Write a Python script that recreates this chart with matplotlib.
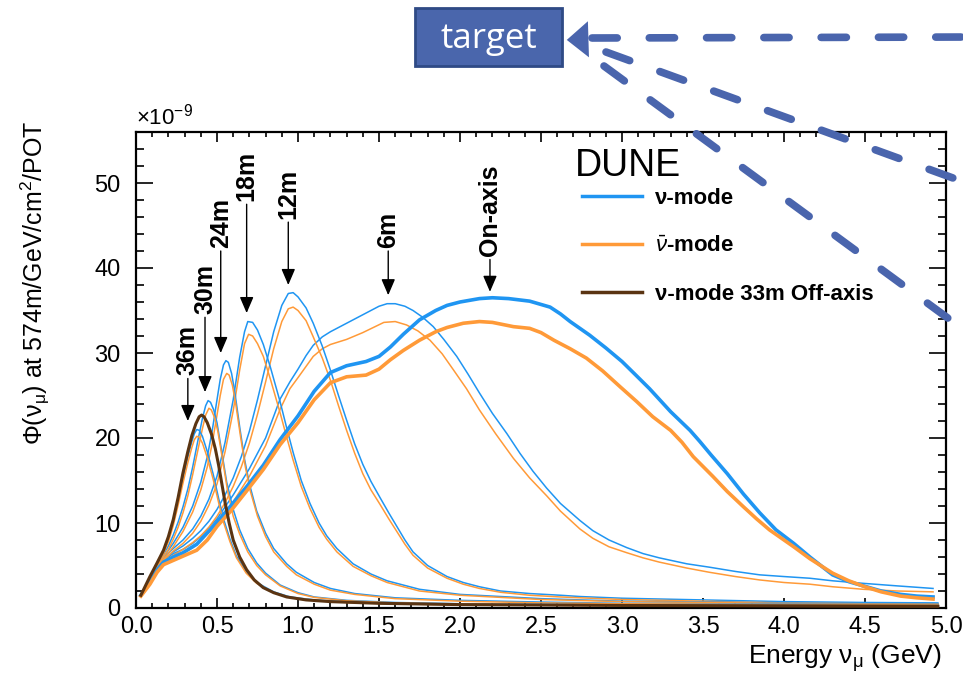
import matplotlib
matplotlib.use("Agg")
import matplotlib.pyplot as plt
from matplotlib.lines import Line2D
from matplotlib.patches import Rectangle, FancyArrowPatch
from matplotlib.ticker import MultipleLocator

plt.rcParams['font.family'] = ['Liberation Sans', 'DejaVu Sans']
plt.rcParams['mathtext.fontset'] = 'custom'
plt.rcParams['mathtext.rm'] = 'Liberation Sans'
plt.rcParams['mathtext.it'] = 'Liberation Sans:italic'
plt.rcParams['mathtext.bf'] = 'Liberation Sans:bold'

# ---- flux curves, units of 1e-9 /GeV/cm2/POT ----
# nu-mode (blue)
nu_on_x = [0.03, 0.086, 0.13, 0.17, 0.23, 0.29, 0.375, 0.477, 0.58, 0.68, 0.786, 0.889, 1.0, 1.1, 1.2,
           1.3, 1.42, 1.5, 1.57, 1.65, 1.75, 1.85, 1.92, 2.0, 2.12, 2.2, 2.3, 2.43, 2.556, 2.62, 2.68,
           2.8, 2.9, 3.0, 3.08, 3.17, 3.3, 3.42, 3.48, 3.55, 3.65, 3.75, 3.85, 3.95, 4.06, 4.16, 4.3,
           4.4, 4.49, 4.6, 4.72, 4.82, 4.92]
nu_on_y = [1.5, 3.0, 4.5, 5.4, 6.0, 6.5, 7.5, 9.6, 11.9, 14.2, 16.8, 19.8, 22.6, 25.5, 27.7,
           28.5, 29.0, 29.6, 30.7, 32.2, 33.9, 35.0, 35.6, 36.0, 36.4, 36.5, 36.4, 36.1, 35.4, 34.6, 33.7,
           32.1, 30.6, 29.0, 27.5, 25.8, 23.1, 20.9, 19.6, 18.0, 15.8, 13.4, 11.2, 9.2, 7.6, 6.0, 3.9,
           3.1, 2.6, 2.0, 1.6, 1.4, 1.3]

nu_6m_x = [0.03, 0.086, 0.13, 0.17, 0.23, 0.29, 0.35, 0.4, 0.5, 0.6, 0.7, 0.8, 0.89, 0.95, 1.0, 1.05,
           1.094, 1.15, 1.2, 1.3, 1.4, 1.5, 1.55, 1.6, 1.66, 1.71, 1.77, 1.835, 1.9, 1.98, 2.05, 2.12,
           2.2, 2.29, 2.37, 2.45, 2.535, 2.62, 2.74, 2.82, 2.92, 3.03, 3.13, 3.23, 3.4, 3.54, 3.7, 3.85,
           4.0, 4.16, 4.3, 4.49, 4.7, 4.92]
nu_6m_y = [1.5, 3.1, 4.6, 5.6, 6.4, 6.9, 7.6, 8.4, 10.5, 13.3, 16.4, 20.0, 24.6, 26.6, 28.1, 29.7,
           30.9, 31.9, 32.5, 33.5, 34.5, 35.5, 35.8, 35.8, 35.5, 35.0, 34.2, 33.1, 31.6, 29.6, 27.5, 25.3,
           22.9, 20.5, 18.2, 16.1, 14.1, 12.3, 10.3, 9.1, 8.0, 7.1, 6.4, 5.9, 5.2, 4.8, 4.3, 3.9,
           3.7, 3.5, 3.2, 2.9, 2.6, 2.3]

nu_12m_x = [0.03, 0.086, 0.13, 0.17, 0.23, 0.29, 0.35, 0.4, 0.45, 0.5, 0.55, 0.6, 0.65, 0.7, 0.75, 0.8,
            0.85, 0.9, 0.94, 0.97, 1.0, 1.05, 1.094, 1.15, 1.2, 1.25, 1.3, 1.35, 1.4, 1.45, 1.506, 1.56,
            1.61, 1.66, 1.71, 1.8, 1.92, 2.02, 2.12, 2.25, 2.43, 2.62, 2.74, 3.0, 3.5, 4.0, 4.5, 4.95]
nu_12m_y = [1.5, 3.2, 4.7, 5.7, 6.6, 7.3, 8.2, 9.1, 10.2, 11.6, 13.3, 15.3, 17.8, 20.8, 24.5, 28.5,
            32.5, 35.6, 37.0, 37.1, 36.6, 35.3, 33.5, 30.8, 28.0, 25.0, 22.1, 19.3, 16.9, 14.9, 13.0, 11.2,
            9.6, 8.0, 6.6, 5.0, 3.7, 3.0, 2.5, 2.0, 1.7, 1.5, 1.35, 1.15, 0.95, 0.75, 0.65, 0.6]

nu_18m_x = [0.03, 0.086, 0.13, 0.17, 0.23, 0.29, 0.35, 0.4, 0.45, 0.5, 0.55, 0.6, 0.64, 0.67, 0.69, 0.72,
            0.75, 0.786, 0.83, 0.889, 0.93, 0.97, 1.02, 1.074, 1.13, 1.177, 1.24, 1.34, 1.45, 1.55, 1.75,
            2.0, 2.5, 3.0, 3.5, 4.0, 4.95]
nu_18m_y = [1.5, 3.3, 4.8, 5.9, 7.0, 8.0, 9.3, 10.8, 12.8, 15.5, 19.5, 24.5, 29.5, 32.5, 33.7, 33.6,
            32.7, 31.0, 28.3, 24.3, 21.2, 18.3, 15.0, 12.3, 10.0, 8.5, 7.0, 5.2, 4.0, 3.2, 2.2,
            1.6, 1.1, 0.8, 0.7, 0.6, 0.5]

nu_24m_x = [0.03, 0.086, 0.13, 0.17, 0.23, 0.29, 0.35, 0.4, 0.44, 0.47, 0.5, 0.52, 0.54, 0.555, 0.57,
            0.59, 0.61, 0.64, 0.67, 0.7, 0.745, 0.8, 0.85, 0.93, 0.99, 1.1, 1.2, 1.35, 1.6, 2.0, 2.5,
            3.0, 4.0, 4.95]
nu_24m_y = [1.5, 3.3, 4.9, 6.0, 7.6, 9.5, 12.0, 14.8, 17.8, 20.8, 24.5, 26.9, 28.6, 29.1, 28.9,
            27.6, 25.4, 21.3, 17.5, 14.6, 11.4, 8.8, 7.0, 5.2, 4.2, 3.0, 2.3, 1.7, 1.2, 0.9, 0.7,
            0.55, 0.45, 0.4]

nu_30m_x = [0.03, 0.086, 0.13, 0.17, 0.2, 0.23, 0.26, 0.29, 0.32, 0.35, 0.38, 0.41, 0.43, 0.445, 0.46,
            0.48, 0.5, 0.53, 0.56, 0.6, 0.64, 0.69, 0.745, 0.8, 0.89, 1.0, 1.1, 1.3, 1.6, 2.0, 3.0,
            4.0, 4.95]
nu_30m_y = [1.5, 3.4, 5.0, 6.3, 7.3, 8.6, 10.1, 11.9, 14.0, 16.6, 19.5, 22.3, 23.8, 24.4, 24.2,
            23.3, 21.8, 18.3, 14.8, 11.6, 9.2, 7.0, 5.3, 4.1, 2.7, 1.8, 1.3, 0.9, 0.65, 0.5, 0.35,
            0.3, 0.25]

nu_36m_x = [0.03, 0.086, 0.13, 0.17, 0.2, 0.23, 0.26, 0.29, 0.32, 0.345, 0.36, 0.375, 0.39, 0.41,
            0.44, 0.477, 0.51, 0.54, 0.58, 0.62, 0.68, 0.745, 0.85, 0.95, 1.1, 1.3, 1.6, 2.0, 3.0,
            4.0, 4.95]
nu_36m_y = [1.5, 3.6, 5.2, 6.7, 8.2, 10.2, 12.7, 15.3, 17.8, 19.6, 20.5, 21.0, 20.9, 20.2,
            18.4, 15.7, 12.9, 10.5, 8.1, 6.1, 4.3, 3.0, 1.9, 1.3, 0.95, 0.7, 0.5, 0.4, 0.3,
            0.22, 0.2]

# anti-nu-mode (orange)
anu_on_x = [0.03, 0.086, 0.13, 0.17, 0.23, 0.29, 0.375, 0.44, 0.5, 0.58, 0.68, 0.786, 0.889, 1.0, 1.1,
            1.2, 1.3, 1.42, 1.5, 1.57, 1.65, 1.75, 1.85, 1.92, 2.02, 2.12, 2.2, 2.33, 2.43, 2.5, 2.58,
            2.68, 2.78, 2.88, 2.99, 3.09, 3.19, 3.3, 3.37, 3.44, 3.56, 3.65, 3.75, 3.83, 3.91, 4.06,
            4.16, 4.3, 4.4, 4.5, 4.6, 4.72, 4.82, 4.92]
anu_on_y = [1.4, 2.8, 4.2, 5.1, 5.6, 6.1, 6.8, 8.0, 9.6, 11.3, 13.7, 16.3, 19.2, 21.8, 24.5,
            26.5, 27.2, 27.4, 28.1, 29.2, 30.3, 31.5, 32.5, 33.0, 33.5, 33.7, 33.6, 33.1, 32.9, 32.4, 31.5,
            30.5, 29.4, 27.9, 26.0, 24.3, 22.5, 20.9, 19.5, 17.8, 15.5, 13.7, 11.9, 10.5, 9.2, 7.2,
            5.8, 4.1, 3.2, 2.5, 1.9, 1.4, 1.2, 1.05]

anu_6m_x = [0.03, 0.086, 0.13, 0.17, 0.23, 0.29, 0.35, 0.4, 0.5, 0.6, 0.7, 0.8, 0.89, 0.95, 1.0, 1.094,
            1.15, 1.2, 1.3, 1.4, 1.53, 1.6, 1.67, 1.74, 1.815, 1.89, 1.96, 2.04, 2.12, 2.22, 2.33, 2.43,
            2.535, 2.62, 2.74, 2.82, 2.92, 3.03, 3.13, 3.23, 3.4, 3.54, 3.7, 3.85, 4.0, 4.16, 4.3, 4.49,
            4.7, 4.92]
anu_6m_y = [1.4, 2.9, 4.3, 5.3, 6.0, 6.5, 7.1, 7.9, 9.9, 12.5, 15.5, 19.1, 23.4, 25.8, 27.1, 29.6,
            30.5, 31.0, 31.6, 32.4, 33.6, 33.7, 33.3, 32.6, 31.5, 29.9, 28.0, 25.8, 23.3, 20.5, 17.6, 15.3,
            13.2, 11.4, 9.3, 8.2, 7.2, 6.5, 5.9, 5.4, 4.7, 4.2, 3.7, 3.3, 3.0, 2.8, 2.5, 2.2,
            2.0, 1.9]

anu_12m_x = [0.03, 0.086, 0.13, 0.17, 0.23, 0.29, 0.35, 0.4, 0.45, 0.5, 0.55, 0.6, 0.65, 0.7, 0.75, 0.8,
             0.85, 0.9, 0.94, 0.97, 1.0, 1.05, 1.094, 1.15, 1.2, 1.25, 1.3, 1.35, 1.4, 1.45, 1.506, 1.56,
             1.61, 1.66, 1.71, 1.8, 1.92, 2.02, 2.12, 2.25, 2.43, 2.62, 2.74, 3.0, 3.5, 4.0, 4.5, 4.95]
anu_12m_y = [1.4, 3.0, 4.5, 5.4, 6.2, 6.9, 7.7, 8.5, 9.5, 10.8, 12.4, 14.3, 16.6, 19.4, 22.8, 26.6,
             30.5, 33.7, 35.2, 35.4, 35.0, 33.8, 31.9, 29.4, 26.8, 23.8, 20.9, 18.2, 15.8, 13.9, 12.2, 10.5,
             9.0, 7.5, 6.2, 4.7, 3.5, 2.8, 2.3, 1.85, 1.5, 1.3, 1.2, 1.0, 0.8, 0.6, 0.5, 0.45]

anu_18m_x = [0.03, 0.086, 0.13, 0.17, 0.23, 0.29, 0.35, 0.4, 0.45, 0.5, 0.55, 0.6, 0.64, 0.67, 0.695, 0.72,
             0.75, 0.786, 0.83, 0.889, 0.93, 0.97, 1.02, 1.074, 1.13, 1.177, 1.24, 1.34, 1.45, 1.55, 1.75,
             2.0, 2.5, 3.0, 3.5, 4.0, 4.95]
anu_18m_y = [1.4, 3.1, 4.6, 5.6, 6.7, 7.6, 8.8, 10.2, 12.1, 14.6, 18.4, 23.2, 28.0, 31.1, 32.2, 32.0,
             31.1, 29.6, 26.9, 23.0, 20.1, 17.4, 14.3, 11.7, 9.5, 8.1, 6.6, 4.9, 3.8, 3.0, 2.0,
             1.5, 1.0, 0.75, 0.65, 0.55, 0.45]

anu_24m_x = [0.03, 0.086, 0.13, 0.17, 0.23, 0.29, 0.35, 0.4, 0.44, 0.47, 0.5, 0.52, 0.54, 0.56, 0.575,
             0.595, 0.615, 0.645, 0.675, 0.705, 0.75, 0.8, 0.85, 0.93, 0.99, 1.1, 1.2, 1.35, 1.6, 2.0,
             2.5, 3.0, 4.0, 4.95]
anu_24m_y = [1.4, 3.1, 4.6, 5.7, 7.2, 9.0, 11.3, 13.9, 16.6, 19.3, 22.7, 25.0, 26.9, 27.6, 27.4,
             26.2, 24.1, 20.2, 16.6, 13.8, 10.8, 8.4, 6.6, 4.9, 3.9, 2.8, 2.1, 1.6, 1.1, 0.8,
             0.6, 0.5, 0.4, 0.35]

anu_30m_x = [0.03, 0.086, 0.13, 0.17, 0.2, 0.23, 0.26, 0.29, 0.32, 0.35, 0.38, 0.41, 0.43, 0.45, 0.465,
             0.485, 0.505, 0.535, 0.565, 0.6, 0.64, 0.69, 0.745, 0.8, 0.89, 1.0, 1.1, 1.3, 1.6, 2.0,
             3.0, 4.0, 4.95]
anu_30m_y = [1.4, 3.2, 4.8, 6.0, 6.9, 8.1, 9.5, 11.2, 13.2, 15.7, 18.4, 21.1, 22.7, 23.5, 23.3,
             22.4, 20.8, 17.4, 13.8, 10.8, 8.7, 6.6, 5.0, 3.9, 2.6, 1.7, 1.25, 0.85, 0.6, 0.45,
             0.32, 0.28, 0.22]

anu_36m_x = [0.03, 0.086, 0.13, 0.17, 0.2, 0.23, 0.26, 0.29, 0.32, 0.345, 0.36, 0.375, 0.39, 0.41,
             0.44, 0.477, 0.51, 0.54, 0.58, 0.62, 0.68, 0.745, 0.85, 0.95, 1.1, 1.3, 1.6, 2.0, 3.0,
             4.0, 4.95]
anu_36m_y = [1.4, 3.4, 5.0, 6.4, 7.8, 9.7, 12.1, 14.7, 17.1, 18.9, 19.8, 20.2, 20.1, 19.4,
             17.7, 15.1, 12.4, 10.1, 7.8, 5.9, 4.1, 2.9, 1.8, 1.25, 0.9, 0.65, 0.48, 0.38, 0.28,
             0.2, 0.18]

# nu-mode 33m off-axis (brown)
nu_33m_x = [0.03, 0.086, 0.13, 0.17, 0.2, 0.23, 0.26, 0.29, 0.32, 0.345, 0.37, 0.39, 0.405, 0.42, 0.44,
            0.467, 0.49, 0.51, 0.53, 0.55, 0.575, 0.6, 0.64, 0.683, 0.73, 0.785, 0.85, 0.93, 1.05, 1.2,
            1.5, 2.0, 3.0, 4.0, 4.95]
nu_33m_y = [1.5, 3.7, 5.3, 6.8, 8.4, 10.4, 13.0, 15.9, 18.4, 20.3, 21.7, 22.5, 22.7, 22.5, 21.8,
            20.4, 18.7, 16.8, 14.6, 12.4, 10.0, 8.0, 6.0, 4.5, 3.3, 2.4, 1.8, 1.3, 0.95, 0.75,
            0.55, 0.4, 0.3, 0.25, 0.2]

# arrow labels: (text, energy, arrow tail, arrow tip)
lab_text = ['36m', '30m', '24m', '18m', '12m', '6m', 'On-axis']
lab_x = [0.32, 0.426, 0.523, 0.683, 0.94, 1.557, 2.185]
lab_tail = [27.0, 34.2, 42.0, 47.5, 45.4, 42.0, 41.0]
lab_tip = [22.0, 25.4, 30.0, 34.7, 38.0, 36.8, 37.2]

BLUE = '#1f95f2'
ORANGE = '#ff9a38'
BROWN = '#5a3412'
OVER = '#4a65ad'

W, H = 963, 674
fig = plt.figure(figsize=(W / 100, H / 100), dpi=100)
ax = fig.add_axes([136 / W, 1 - 608 / H, 810 / W, 476 / H])

thin = [(nu_6m_x, nu_6m_y), (nu_12m_x, nu_12m_y), (nu_18m_x, nu_18m_y), (nu_24m_x, nu_24m_y),
        (nu_30m_x, nu_30m_y), (nu_36m_x, nu_36m_y)]
thin_a = [(anu_6m_x, anu_6m_y), (anu_12m_x, anu_12m_y), (anu_18m_x, anu_18m_y),
          (anu_24m_x, anu_24m_y), (anu_30m_x, anu_30m_y), (anu_36m_x, anu_36m_y)]

for (xb, yb), (xo, yo) in zip(thin, thin_a):
    ax.plot(xb, yb, color=BLUE, lw=1.1, zorder=3)
    ax.plot(xo, yo, color=ORANGE, lw=1.1, zorder=3)
ax.plot(nu_on_x, nu_on_y, color=BLUE, lw=2.6, zorder=4)
ax.plot(anu_on_x, anu_on_y, color=ORANGE, lw=2.6, zorder=4)
ax.plot(nu_33m_x, nu_33m_y, color=BROWN, lw=2.2, zorder=5)

for t, x, y0, y1 in zip(lab_text, lab_x, lab_tail, lab_tip):
    ax.annotate('', xy=(x, y1), xytext=(x, y0),
                arrowprops=dict(arrowstyle='-|>,head_length=0.7,head_width=0.3', color='black',
                                lw=1.0, shrinkA=0, shrinkB=0, mutation_scale=14))
    ax.text(x, y0 + 0.4, t, rotation=90, ha='center', va='bottom', fontsize=18,
            fontweight='bold')

ax.set_xlim(0, 5.0)
ax.set_ylim(0, 56)
ax.xaxis.set_major_locator(MultipleLocator(0.5))
ax.xaxis.set_minor_locator(MultipleLocator(0.1))
ax.yaxis.set_major_locator(MultipleLocator(10))
ax.yaxis.set_minor_locator(MultipleLocator(2))
ax.xaxis.set_major_formatter(plt.FuncFormatter(lambda v, p: f'{v:.1f}'))
ax.tick_params(which='both', direction='in', top=True, right=True, labelsize=17, width=1.2)
ax.tick_params(axis='x', which='major', length=7, pad=6)
ax.tick_params(axis='x', which='minor', length=3.5)
ax.tick_params(axis='y', which='major', length=12, pad=11)
ax.tick_params(axis='y', which='minor', length=6)
for s in ax.spines.values():
    s.set_linewidth(1.6)

ax.set_xlabel(r'Energy $\mathrm{\nu}_{\mathrm{\mu}}$ (GeV)', fontsize=19, loc='right')
ax.xaxis.set_label_coords(0.995, -0.072)
ax.set_ylabel(r'$\mathrm{\Phi}(\mathrm{\nu}_{\mathrm{\mu}}$) at 574m/GeV/cm$^{2}$/POT', fontsize=18,
              loc='top')
ax.yaxis.set_label_coords(-0.104, 1.025)
ax.text(0.0, 1.006, r'$\times$10$^{-9}$', transform=ax.transAxes, fontsize=16,
        ha='left', va='bottom')

ax.text(2.71, 52.0, 'DUNE', fontsize=27, ha='left', va='center')
handles = [Line2D([], [], color=BLUE, lw=2.5), Line2D([], [], color=ORANGE, lw=2.5),
           Line2D([], [], color=BROWN, lw=2.5)]
labels = ['ν-mode', r'$\bar{\nu}$-mode', 'ν-mode 33m Off-axis']
ax.legend(handles, labels, loc='upper left', bbox_to_anchor=(0.551, 0.882), frameon=False,
          prop={'size': 16, 'weight': 'bold'}, handlelength=2.7, handletextpad=0.55,
          labelspacing=1.2, borderpad=0, borderaxespad=0)

# ---- slide overlay: target box and dashed pointers ----
def fx(px):
    return px / W

def fy(py):
    return 1 - py / H

box = Rectangle((fx(415), fy(66)), fx(562) - fx(415), fy(8) - fy(66), transform=fig.transFigure,
                facecolor='#4a66ac', edgecolor='#2f4a85', lw=2, zorder=10)
fig.patches.append(box)
fig.text(fx(489), fy(39), 'target', color='white', fontsize=25, family=['Open Sans', 'DejaVu Sans'],
         ha='center', va='center', zorder=11)

for (x0, y0, x1, y1) in [(592, 38, 975, 37), (606, 52, 975, 186), (604, 66, 975, 338)]:
    ln = Line2D([fx(x0), fx(x1)], [fy(y0), fy(y1)], transform=fig.transFigure, color=OVER, lw=5.5,
                dashes=(3.3, 4.2), dash_capstyle='round', zorder=12)
    fig.add_artist(ln)
fig.add_artist(FancyArrowPatch((fx(598), fy(39)), (fx(564), fy(40)), transform=fig.transFigure,
                               arrowstyle='-|>,head_length=0.6,head_width=0.5', mutation_scale=26,
                               color=OVER, lw=0, zorder=12))

fig.savefig('out.png', dpi=100)
